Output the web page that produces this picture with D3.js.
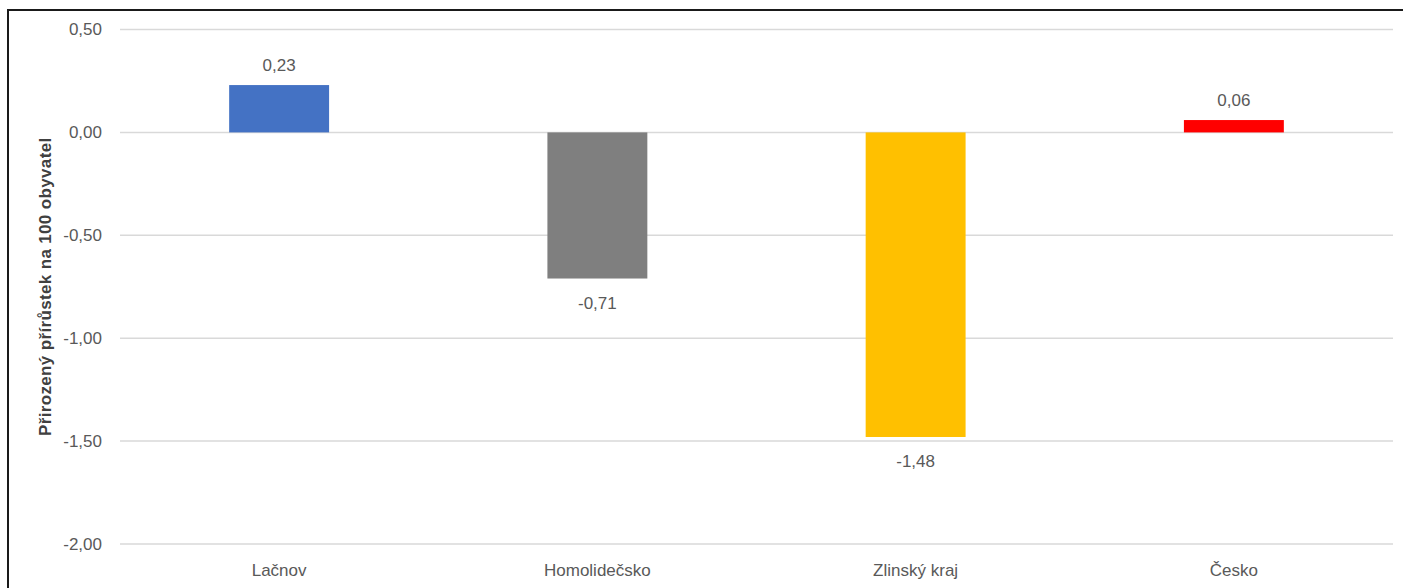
<!DOCTYPE html>
<html>
<head>
<script src="https://d3js.org/d3.v7.min.js"></script>
<meta charset="utf-8">
<style>
body {
  margin: 0;
  background: #fff;
  font-family: Arial, "Liberation Sans", Helvetica, sans-serif;
}
.tick-label, .cat-label, .val-label {
  font-size: 17px;
  fill: #595959;
}
.axis-title {
  font-size: 17px;
  font-weight: bold;
  letter-spacing: 0.35px;
  fill: #404040;
}
</style>
</head>
<body>
<div class="chart"></div>

<script>

// data
var categories = ["Lačnov", "Homolidečsko", "Zlinský kraj", "Česko"];
var values = [0.23, -0.71, -1.48, 0.06];
var barColors = ["#4472C4", "#7F7F7F", "#FFC000", "#FF0000"];
var yTicks = [0.5, 0, -0.5, -1, -1.5, -2];
var yTitle = "Přirozený přírůstek na 100 obyvatel";

var width = 1405,
    height = 588;

var svg = d3.select(".chart")
  .append("svg")
  .attr("width", width)
  .attr("height", height);

// czech number format: comma decimal, plain hyphen minus
var cz = d3.formatLocale({decimal: ",", thousands: " ", grouping: [3], currency: ["", " Kč"], minus: "-"});
var fmt = cz.format(".2f");

var x = d3.scaleBand()
  .domain(categories)
  .range([120, 1393])
  .paddingInner(0.686)
  .paddingOuter(0.343);

var y = d3.scaleLinear()
  .domain([-2, 0.5])
  .range([544, 29.5]);

// gridlines
svg.append("g")
  .selectAll("line")
  .data(yTicks)
  .enter().append("line")
  .attr("x1", 120)
  .attr("x2", 1393)
  .attr("y1", function(d) { return y(d); })
  .attr("y2", function(d) { return y(d); })
  .attr("stroke", "#d9d9d9")
  .attr("stroke-width", 1.5);

// y tick labels
svg.append("g")
  .selectAll("text")
  .data(yTicks)
  .enter().append("text")
  .attr("class", "tick-label")
  .attr("x", 102)
  .attr("y", function(d) { return y(d); })
  .attr("dy", "0.35em")
  .attr("text-anchor", "end")
  .text(function(d) { return fmt(d); });

// bars
svg.append("g")
  .selectAll("rect")
  .data(values)
  .enter().append("rect")
  .attr("x", function(d, i) { return x(categories[i]); })
  .attr("width", x.bandwidth())
  .attr("y", function(d) { return y(Math.max(0, d)); })
  .attr("height", function(d) { return Math.abs(y(d) - y(0)); })
  .attr("fill", function(d, i) { return barColors[i]; });

// value labels
svg.append("g")
  .selectAll("text")
  .data(values)
  .enter().append("text")
  .attr("class", "val-label")
  .attr("x", function(d, i) { return x(categories[i]) + x.bandwidth() / 2; })
  .attr("y", function(d) { return d >= 0 ? y(d) - 14 : y(d) + 30; })
  .attr("text-anchor", "middle")
  .text(function(d) { return fmt(d); });

// category labels
svg.append("g")
  .selectAll("text")
  .data(categories)
  .enter().append("text")
  .attr("class", "cat-label")
  .attr("x", function(d) { return x(d) + x.bandwidth() / 2; })
  .attr("y", 576)
  .attr("text-anchor", "middle")
  .text(function(d) { return d; });

// y axis title
svg.append("text")
  .attr("class", "axis-title")
  .attr("transform", "translate(51," + ((y(0.5) + y(-2)) / 2) + ") rotate(-90)")
  .attr("text-anchor", "middle")
  .text(yTitle);

// outer frame (left and top edges visible)
svg.append("path")
  .attr("d", "M8,588 V10 H1403")
  .attr("fill", "none")
  .attr("stroke", "#1a1a1a")
  .attr("stroke-width", 2);

</script>
</body>
</html>
